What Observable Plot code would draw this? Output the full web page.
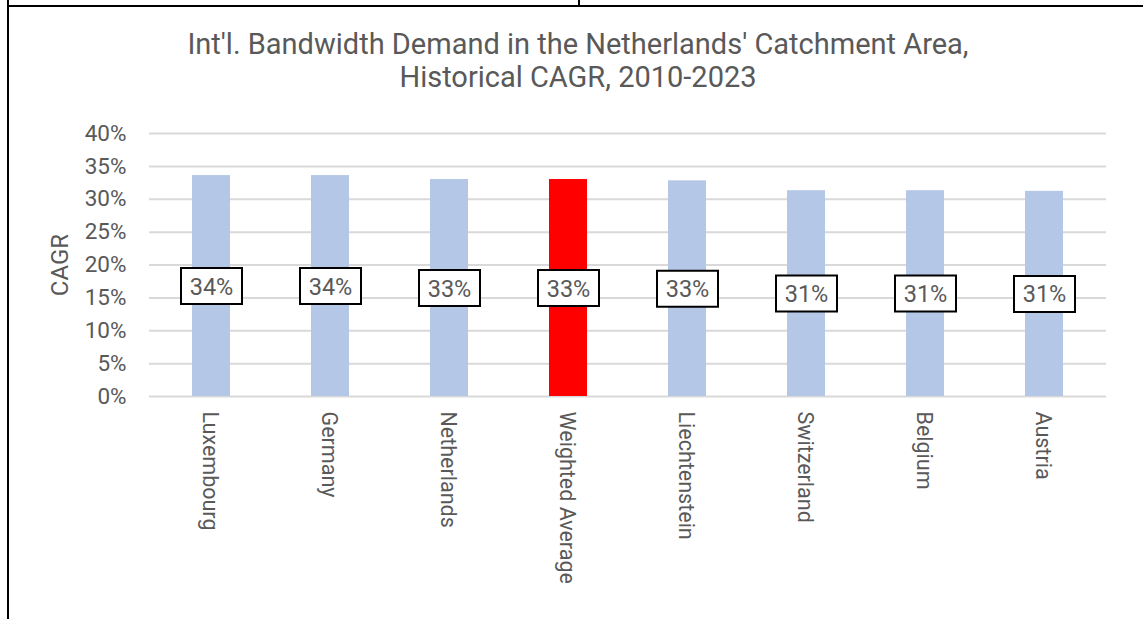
<!DOCTYPE html>
<html>
<head>
<meta charset="utf-8">
<script src="https://cdn.jsdelivr.net/npm/d3@7"></script>
<script src="https://cdn.jsdelivr.net/npm/@observablehq/plot@0.6"></script>
<style>
  html, body { margin: 0; padding: 0; background: #fff; }
  #wrap { position: relative; width: 1143px; height: 619px; overflow: hidden; font-family: Roboto, "Noto Sans", sans-serif; }
  #frameTop { position: absolute; left: 7px; top: 5px; width: 1136px; height: 0; border-top: 2px solid #000; }
  #frameLeft { position: absolute; left: 7px; top: 0; width: 0; height: 619px; border-left: 2px solid #000; }
  #frameTick { position: absolute; left: 578px; top: 0; width: 0; height: 5px; border-left: 2px solid #000; }
  .title { position: absolute; left: 0; width: 1156px; text-align: center; font-size: 29px; line-height: 34px; color: #595959; white-space: nowrap; }
  #chart { position: absolute; left: 0; top: 0; }
</style>
</head>
<body>
<div id="wrap">
  <div id="chart"></div>
  <div class="title" style="top:27px">Int'l. Bandwidth Demand in the Netherlands' Catchment Area,</div>
  <div class="title" style="top:60px">Historical CAGR, 2010-2023</div>
  <div id="frameTop"></div>
  <div id="frameLeft"></div>
  <div id="frameTick"></div>
</div>
<script>
const categories = ["Luxembourg", "Germany", "Netherlands", "Weighted Average", "Liechtenstein", "Switzerland", "Belgium", "Austria"];
const cagr = [0.336, 0.336, 0.330, 0.330, 0.328, 0.313, 0.313, 0.312];
const highlight = ["Weighted Average"];
const yTicks = [0, 0.05, 0.10, 0.15, 0.20, 0.25, 0.30, 0.35, 0.40];

const data = categories.map((c, i) => ({category: c, value: cagr[i]}));

const boxSymbol = {
  draw(context) {
    context.moveTo(-30.5, -18);
    context.lineTo(30.5, -18);
    context.lineTo(30.5, 18);
    context.lineTo(-30.5, 18);
    context.closePath();
  }
};

const chart = Plot.plot({
  width: 1143,
  height: 619,
  marginTop: 133,
  marginBottom: 223,
  marginLeft: 149,
  marginRight: 37,
  style: {fontFamily: "Roboto, 'Noto Sans', sans-serif", color: "#595959", background: "transparent"},
  x: {domain: categories, paddingInner: 0.682, paddingOuter: 0.341, align: 0.5, axis: null},
  y: {domain: [0, 0.40]},
  marks: [
    Plot.gridY(yTicks, {stroke: "#d9d9d9", strokeOpacity: 1, strokeWidth: 2}),
    Plot.barY(data, {
      x: "category",
      y: "value",
      fill: d => highlight.includes(d.category) ? "#ff0000" : "#b4c7e7"
    }),
    Plot.dot(data, {
      x: "category",
      y: d => d.value / 2,
      symbol: boxSymbol,
      fill: "#fff",
      stroke: "#000",
      strokeWidth: 2
    }),
    Plot.text(data, {
      x: "category",
      y: d => d.value / 2,
      text: d => d3.format(".0%")(d.value),
      fontSize: 23.5,
      fill: "#595959",
      lineAnchor: "middle",
      dy: 1
    }),
    Plot.axisY({
      ticks: yTicks,
      tickFormat: d3.format(".0%"),
      tickSize: 0,
      tickPadding: 23,
      fontSize: 22.5,
      label: null
    }),
    Plot.text(["CAGR"], {
      frameAnchor: "left",
      dx: -89,
      rotate: -90,
      textAnchor: "middle",
      fontSize: 24,
      fill: "#595959",
      lineAnchor: "middle"
    }),
    Plot.text(categories, {
      x: d => d,
      frameAnchor: "bottom",
      rotate: 90,
      textAnchor: "start",
      lineAnchor: "middle",
      dy: 15,
      dx: -2,
      fontSize: 21.5,
      fill: "#595959"
    })
  ]
});

document.getElementById("chart").appendChild(chart);
</script>
</body>
</html>
